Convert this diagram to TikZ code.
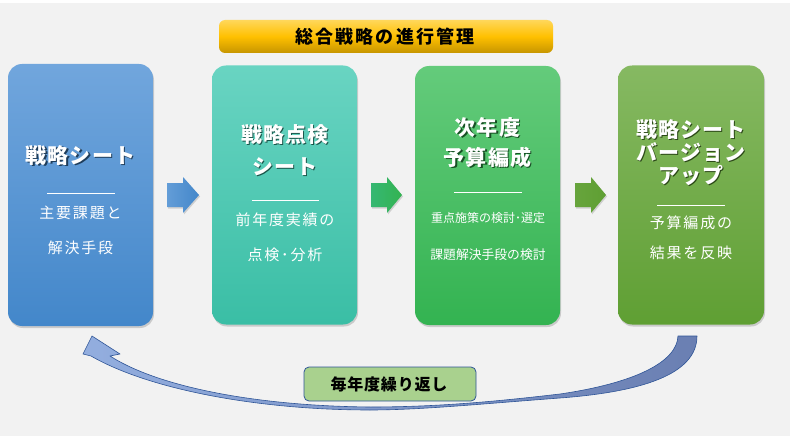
\documentclass[tikz,border=0pt]{standalone}
\usepackage{fontspec}
\setmainfont{Noto Sans CJK JP}
\usetikzlibrary{shadows,calc}
\definecolor{bg}{HTML}{F2F2F2}
\definecolor{b1t}{HTML}{71A6DD}\definecolor{b1b}{HTML}{4387CA}
\definecolor{b2t}{HTML}{69D4C2}\definecolor{b2b}{HTML}{3ABEA5}
\definecolor{b3t}{HTML}{64CB7B}\definecolor{b3b}{HTML}{33B351}
\definecolor{b4t}{HTML}{86B962}\definecolor{b4b}{HTML}{5F9F33}
\definecolor{ttl}{HTML}{FFD75A}\definecolor{tlm}{HTML}{FFC000}\definecolor{tlb}{HTML}{C69500}
\definecolor{lbl}{HTML}{A9D18E}\definecolor{navy}{HTML}{2F5597}
\definecolor{cal}{HTML}{93AEDF}\definecolor{car}{HTML}{6A7FB2}
\newcommand\hdl[4]{\node[hd] (#1) at (#2) {\rlap{\hspace{1.2pt}\raisebox{-1.6pt}{\textcolor{#4}{#3}}}#3};}
\begin{document}
\begin{tikzpicture}[x=1pt,y=-1pt,
  box/.style={rounded corners=14pt, minimum width=145pt, minimum height=259pt, inner sep=0pt,
    drop shadow={opacity=0.35,shadow xshift=1pt,shadow yshift=-2pt}},
  hd/.style={font=\fontsize{21}{21}\selectfont\bfseries\addfontfeature{LetterSpace=5}, inner sep=0pt, text=white},
  bt/.style={text=white, inner sep=0pt, font=\fontsize{15}{15}\selectfont\addfontfeature{LetterSpace=12}},
  bts/.style={text=white, inner sep=0pt, font=\fontsize{12}{12}\selectfont},
  sep/.style={white, line width=0.8pt},
  barrow/.style={drop shadow={opacity=0.3,shadow xshift=1pt,shadow yshift=-1.5pt}}]
\useasboundingbox (0,0) rectangle (796,436);
\fill[white] (0,0) rectangle (796,436);
\fill[bg] (0,3) rectangle (790,436);

% title
\node[rounded corners=6pt, minimum width=334pt, minimum height=33pt, inner sep=0pt,
  top color=ttl, bottom color=tlb, middle color=tlm] (title) at (386,36.5) {};
\node[font=\fontsize{18}{18}\selectfont\bfseries\addfontfeature{LetterSpace=12}, inner sep=0pt] (titletxt) at (385,36.5) {総合戦略の進行管理};

% boxes
\node[box, minimum height=262pt, top color=b1t, bottom color=b1b] (b1) at (80.5,195) {};
\node[box, top color=b2t, bottom color=b2b] (b2) at (284.5,195) {};
\node[box, top color=b3t, bottom color=b3b] (b3) at (487.5,195.5) {};
\node[box, minimum width=146pt, top color=b4t, bottom color=b4b] (b4) at (691,195) {};

% block arrows
\shade[barrow, left color=b1t!70!b1b, right color=b1b] (167,183) -- (183,183) -- (183,177) -- (199,195) -- (183,213) -- (183,207) -- (167,207) -- cycle;
\shade[barrow, left color=b3b!60!b2b, right color=b3b] (371,183) -- (387,183) -- (387,177) -- (402,195) -- (387,213) -- (387,207) -- (371,207) -- cycle;
\shade[barrow, left color=b4b!80!b4t, right color=b4b] (575,183) -- (591,183) -- (591,177) -- (606,195) -- (591,213) -- (591,207) -- (575,207) -- cycle;

% box 1 text
\hdl{h1a}{80.5,156}{戦略シート}{b1b!45!black}
\draw[sep] (47,193) -- (115,193);
\node[bt] (t1a) at (80.5,213) {主要課題と};
\node[bt] (t1b) at (80.5,248) {解決手段};

% box 2 text
\hdl{h2a}{285,135}{戦略点検}{b2b!45!black}
\hdl{h2b}{285,167}{シート}{b2b!45!black}
\draw[sep] (252,200) -- (319,200);
\node[bt] (t2a) at (285,220) {前年度実績の};
\node[bt] (t2b) at (285,255) {点検･分析};

% box 3 text
\hdl{h3a}{487.5,128}{次年度}{b3b!45!black}
\hdl{h3b}{487.5,158}{予算編成}{b3b!45!black}
\draw[sep] (454,192) -- (522,192);
\node[bts] (t3a) at (488,218) {重点施策の検討･選定};
\node[bts, font=\fontsize{12.8}{12.8}\selectfont] (t3b) at (488,255) {課題解決手段の検討};

% box 4 text
\hdl{h4a}{691,130}{戦略シート}{b4b!45!black}
\hdl{h4b}{691,153}{バージョン}{b4b!45!black}
\hdl{h4c}{691,176}{アップ}{b4b!45!black}
\draw[sep] (657,205) -- (725,205);
\node[bt] (t4a) at (691,223) {予算編成の};
\node[bt] (t4b) at (691,253) {結果を反映};

% curved return arrow
\coordinate (tailI) at (678,336);
\coordinate (tailO) at (697,336);
\coordinate (tip) at (92,336);
\shade[left color=cal, right color=car, draw=navy, line width=0.6pt, line join=round]
  (tailO) .. controls (697,375) and (640,392) .. (560,398)
  .. controls (480,404) and (420,410) .. (370,410)
  .. controls (260,410) and (150,390) .. (91,356)
  -- (83,354) -- (tip) -- (120,354) -- (110,356)
  .. controls (160,388) and (260,406) .. (370,407)
  .. controls (440,407) and (500,401) .. (560,394)
  .. controls (635,383) and (677,362) .. (tailI) -- cycle;

% label
\node[rounded corners=5pt, minimum width=172pt, minimum height=34pt, inner sep=0pt,
  fill=lbl, draw=navy, line width=0.8pt] (label) at (390,384) {};
\node[font=\fontsize{16}{16}\selectfont\bfseries\addfontfeature{LetterSpace=5}, inner sep=0pt] (labeltxt) at (389,384) {毎年度繰り返し};
\end{tikzpicture}
\end{document}
